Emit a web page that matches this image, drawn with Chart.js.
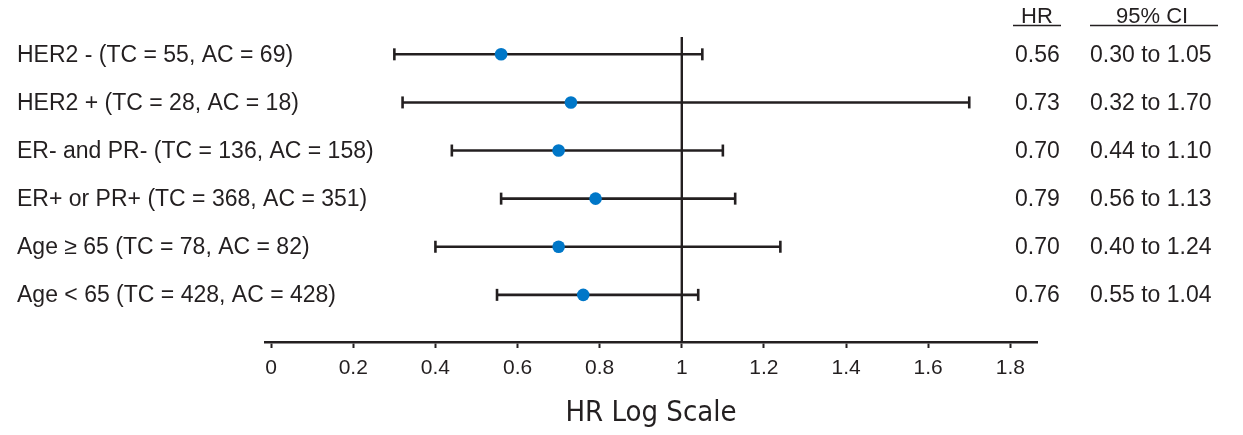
<!DOCTYPE html>
<html>
<head>
<meta charset="utf-8">
<title>HR by subgroup</title>
<script src="https://cdn.jsdelivr.net/npm/chart.js@4/dist/chart.umd.min.js"></script>
<style>
  html, body { margin: 0; padding: 0; background: #fff; }
  canvas { display: block; }
</style>
</head>
<body>
<canvas id="forest" width="1243" height="435"></canvas>
<script>
// subgroups, top to bottom
const subgroups = [
    'HER2 - (TC = 55, AC = 69)',
    'HER2 + (TC = 28, AC = 18)',
    'ER- and PR- (TC = 136, AC = 158)',
    'ER+ or PR+ (TC = 368, AC = 351)',
    'Age \u2265 65 (TC = 78, AC = 82)',
    'Age < 65 (TC = 428, AC = 428)'
];
const hazardRatio = [0.56, 0.73, 0.70, 0.79, 0.70, 0.76];
const ciLower = [0.30, 0.32, 0.44, 0.56, 0.40, 0.55];
const ciUpper = [1.05, 1.70, 1.10, 1.13, 1.24, 1.04];

const xTicks = [0, 0.2, 0.4, 0.6, 0.8, 1, 1.2, 1.4, 1.6, 1.8];
const xTickLabels = ['0', '0.2', '0.4', '0.6', '0.8', '1', '1.2', '1.4', '1.6', '1.8'];

const ink = '#231f20';
const blue = '#0077c8';
const sans = "'Liberation Sans', Arial, sans-serif";

const Y_MIN = -0.36;
const Y_MAX = 5.98;

// HR point estimates (first so they sit on top of the bars)
const datasets = [{
    data: hazardRatio.map((hr, i) => ({ x: hr, y: i })),
    pointRadius: 6.3,
    pointHoverRadius: 6.3,
    backgroundColor: blue,
    borderWidth: 0,
    showLine: false
}];

// confidence intervals with end caps
subgroups.forEach((name, i) => {
    datasets.push({
        data: [{ x: ciLower[i], y: i }, { x: ciUpper[i], y: i }],
        showLine: true,
        borderColor: ink,
        borderWidth: 2.6,
        pointStyle: 'line',
        pointRotation: 90,
        pointRadius: 6,
        pointHoverRadius: 6,
        pointBorderColor: ink,
        pointBorderWidth: 2.6
    });
});

// line of no effect
datasets.push({
    data: [{ x: 1, y: Y_MIN }, { x: 1, y: Y_MAX }],
    showLine: true,
    borderColor: ink,
    borderWidth: 2.4,
    pointRadius: 0,
    clip: false
});

// subgroup names on the left, HR / 95% CI columns on the right
const tableColumns = {
    id: 'tableColumns',
    afterDraw(chart) {
        const ctx = chart.ctx;
        const y = chart.scales.y;
        ctx.save();
        ctx.fillStyle = ink;
        ctx.textBaseline = 'middle';
        ctx.textAlign = 'left';

        ctx.font = '22px ' + sans;
        ctx.fillText('HR', 1021, 17);
        ctx.fillText('95% CI', 1116, 17);
        ctx.strokeStyle = ink;
        ctx.lineWidth = 1.5;
        ctx.beginPath();
        ctx.moveTo(1013, 25.5); ctx.lineTo(1061, 25.5);
        ctx.moveTo(1090, 25.5); ctx.lineTo(1218, 25.5);
        ctx.stroke();

        ctx.font = '23px ' + sans;
        subgroups.forEach((name, i) => {
            const py = y.getPixelForValue(i) + 1;
            ctx.fillText(name, 17, py);
            ctx.fillText(hazardRatio[i].toFixed(2), 1015, py);
            ctx.fillText(ciLower[i].toFixed(2) + ' to ' + ciUpper[i].toFixed(2), 1090, py);
        });
        ctx.restore();
    }
};

new Chart(document.getElementById('forest').getContext('2d'), {
    type: 'scatter',
    data: { datasets: datasets },
    options: {
        responsive: false,
        animation: false,
        layout: { padding: { top: 37, right: 206, bottom: 4, left: 265 } },
        plugins: {
            legend: { display: false },
            tooltip: { enabled: false }
        },
        scales: {
            x: {
                type: 'linear',
                min: -0.015,
                max: 1.865,
                afterBuildTicks: (axis) => { axis.ticks = xTicks.map(v => ({ value: v })); },
                grid: {
                    drawOnChartArea: false,
                    drawTicks: true,
                    tickLength: 6,
                    tickWidth: 2,
                    tickColor: ink
                },
                border: { display: true, color: ink, width: 2.6 },
                ticks: {
                    autoSkip: false,
                    maxRotation: 0,
                    padding: 8,
                    color: ink,
                    font: { family: sans, size: 21 },
                    callback: (value, index) => xTickLabels[index]
                },
                title: {
                    display: true,
                    text: 'HR Log Scale',
                    color: ink,
                    font: { family: "'DejaVu Sans Condensed', 'Liberation Sans', sans-serif", size: 29 },
                    padding: { top: 7, bottom: 0 }
                }
            },
            y: {
                type: 'linear',
                display: false,
                reverse: true,
                min: Y_MIN,
                max: Y_MAX
            }
        }
    },
    plugins: [tableColumns]
});
</script>
</body>
</html>
